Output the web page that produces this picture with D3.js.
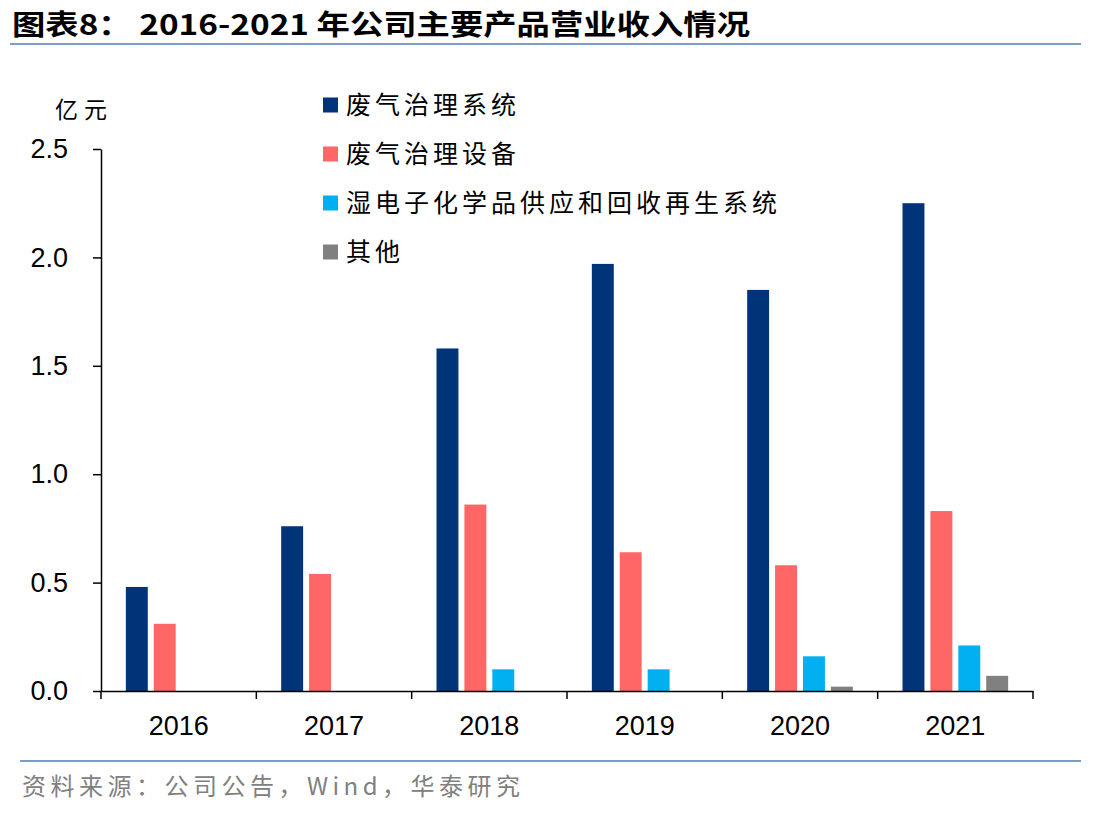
<!DOCTYPE html>
<html>
<head>
<meta charset="utf-8">
<script src="https://cdn.jsdelivr.net/npm/d3@7"></script>
<style>
  body { margin: 0; background: #fff; }
  svg text { font-family: "Liberation Sans", Arial, sans-serif; }
  .cjk { font-family: "Noto Sans CJK SC", sans-serif; }
</style>
</head>
<body>
<svg id="chart" width="1112" height="816"></svg>
<script>
const years = ["2016", "2017", "2018", "2019", "2020", "2021"];
const seriesNames = ["废气治理系统", "废气治理设备", "湿电子化学品供应和回收再生系统", "其他"];
const seriesColors = ["#003478", "#ff6666", "#00b0f0", "#808080"];
const gasSystem = [0.48, 0.76, 1.58, 1.97, 1.85, 2.25];
const gasEquip = [0.31, 0.54, 0.86, 0.64, 0.58, 0.83];
const wetChem = [0, 0, 0.10, 0.10, 0.16, 0.21];
const others = [0, 0, 0, 0, 0.02, 0.07];
const yTicks = [0, 0.5, 1.0, 1.5, 2.0, 2.5];

const svg = d3.select("#chart");
const margin = { left: 101, right: 79, top: 149, bottom: 125 };
const W = 1112, H = 816;
const seriesVals = [gasSystem, gasEquip, wetChem, others];

// title
svg.append("text").attr("class", "cjk")
  .attr("x", 12).attr("y", 35)
  .attr("textLength", 738).attr("lengthAdjust", "spacingAndGlyphs")
  .style("font-size", "28px").style("font-weight", "bold").attr("fill", "#000")
  .text("图表8： 2016-2021 年公司主要产品营业收入情况");
svg.append("line").attr("x1", 10).attr("x2", 1081).attr("y1", 44).attr("y2", 44)
  .attr("stroke", "#7f9cc6").attr("stroke-width", 2);

const x0 = d3.scaleBand().domain(years).range([margin.left, W - margin.right]).padding(0);
const x1 = d3.scaleBand().domain(d3.range(seriesNames.length))
  .range([0, x0.bandwidth()]).paddingInner(0.214).paddingOuter(0.89);
const y = d3.scaleLinear().domain([0, 2.5]).range([H - margin.bottom, margin.top]);

// bars
const groups = svg.append("g").selectAll("g").data(years).join("g")
  .attr("transform", d => `translate(${x0(d)},0)`);
groups.selectAll("rect")
  .data((d, i) => seriesVals.map((s, k) => ({ k, v: s[i] })))
  .join("rect")
  .attr("x", d => x1(d.k))
  .attr("width", x1.bandwidth())
  .attr("y", d => y(d.v))
  .attr("height", d => y(0) - y(d.v))
  .attr("fill", d => seriesColors[d.k]);

// y axis
const yAxis = svg.append("g").attr("transform", `translate(${margin.left},0)`)
  .call(d3.axisLeft(y).tickValues(yTicks).tickFormat(d3.format(".1f")).tickSize(8).tickSizeOuter(0).tickPadding(25));
yAxis.selectAll("text").style("font-size", "27px").attr("fill", "#000");
yAxis.select(".domain").attr("stroke", "#000").attr("stroke-width", 1.5);
yAxis.selectAll(".tick line").attr("stroke", "#000").attr("stroke-width", 1.5);

// x axis
const xAxis = svg.append("g").attr("transform", `translate(0,${y(0)})`)
  .call(d3.axisBottom(x0).tickSize(0).tickPadding(25));
xAxis.selectAll("text").style("font-size", "27px").attr("fill", "#000");
xAxis.select(".domain").attr("stroke", "#000").attr("stroke-width", 1.5);
svg.append("g").selectAll("line").data(years.concat(["end"])).join("line")
  .attr("x1", (d, i) => margin.left + i * x0.step())
  .attr("x2", (d, i) => margin.left + i * x0.step())
  .attr("y1", y(0)).attr("y2", y(0) + 8)
  .attr("stroke", "#000").attr("stroke-width", 1.5);

// unit
svg.append("text").attr("class", "cjk").attr("x", 55).attr("y", 118)
  .style("font-size", "23px").style("letter-spacing", "6px").attr("fill", "#000").text("亿元");

// legend
const legend = svg.append("g").selectAll("g").data(seriesNames).join("g")
  .attr("transform", (d, i) => `translate(323,${105 + i * 49})`);
legend.append("rect").attr("x", 0).attr("y", -7.5).attr("width", 15).attr("height", 15)
  .attr("fill", (d, i) => seriesColors[i]);
legend.append("text").attr("class", "cjk").attr("x", 23).attr("y", 9)
  .style("font-size", "25px").style("letter-spacing", "4px").attr("fill", "#000").text(d => d);

// footer
svg.append("line").attr("x1", 20).attr("x2", 1081).attr("y1", 761).attr("y2", 761)
  .attr("stroke", "#7f9cc6").attr("stroke-width", 2);
svg.append("text").attr("class", "cjk").attr("x", 22).attr("y", 795)
  .attr("textLength", 498).attr("lengthAdjust", "spacing")
  .style("font-size", "24px").attr("fill", "#808080").text("资料来源：公司公告，Wind，华泰研究");
</script>
</body>
</html>
